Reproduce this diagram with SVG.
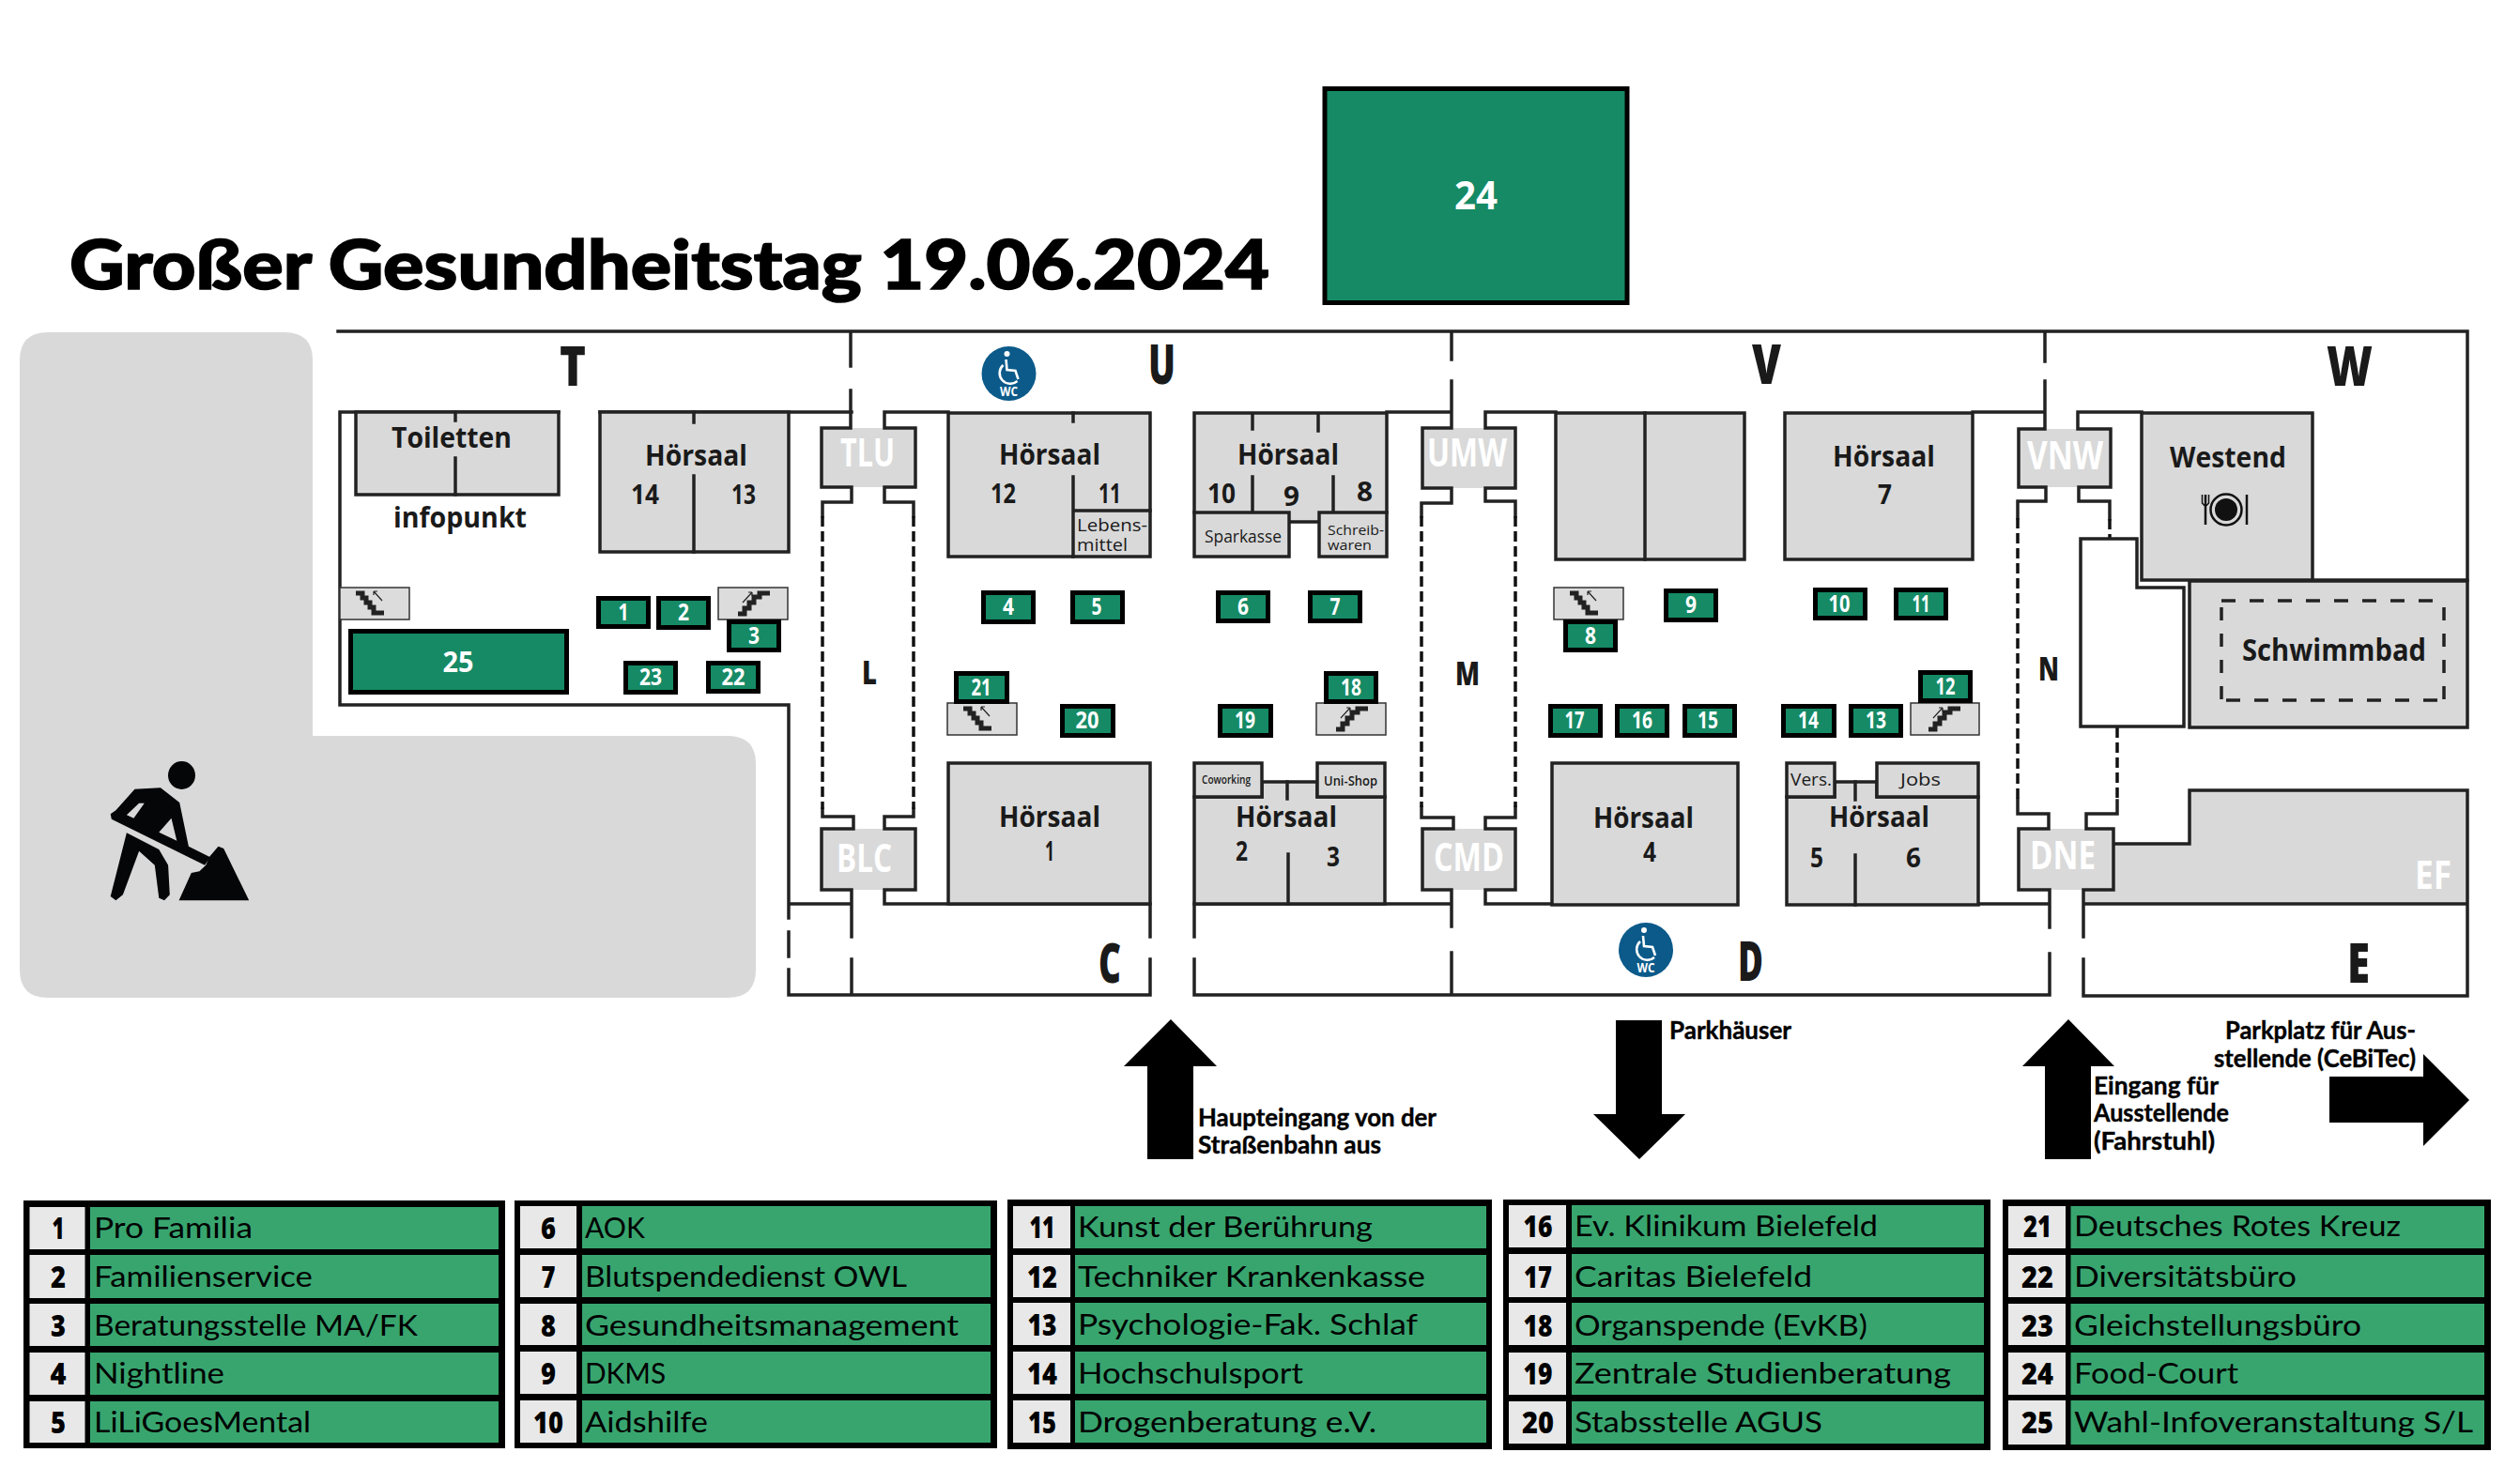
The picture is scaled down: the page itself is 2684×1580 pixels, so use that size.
<svg xmlns="http://www.w3.org/2000/svg" xmlns:xlink="http://www.w3.org/1999/xlink" width="2684" height="1580" viewBox="0 0 2684 1580">
<style>
text{font-family:"Open Sans","Noto Sans","Liberation Sans",sans-serif;fill:#1a1a1a}
.w{fill:none;stroke:#222;stroke-width:3.5;stroke-linecap:square}
.d{fill:none;stroke:#111;stroke-width:3.5;stroke-dasharray:11 5}
.d2{fill:none;stroke:#222;stroke-width:3.5;stroke-dasharray:15 15}
.d3{fill:none;stroke:#222;stroke-width:3.5;stroke-dasharray:14 14}
.room{fill:#d9d9d9;stroke:#222;stroke-width:3.5}
.fill{fill:#d9d9d9}
.stairbox{fill:#dcdcdc;stroke:#333;stroke-width:1.5}
.g{fill:#158a65;stroke:#000;stroke-width:5}
.n{fill:#fff;font-weight:700;font-size:25px;text-anchor:middle}
.t{font-weight:700;font-size:31px}
.m{font-weight:700;font-size:28px}
.s{font-weight:400;font-size:19px}
.xs{font-weight:400;font-size:15px}
.z{font-weight:800;font-size:59px}
.c{font-weight:800;font-size:36px}
.gate{fill:#fff;font-weight:700;font-size:41px}
.a{fill:#000}
.lab{font-family:"Lato","Noto Sans",sans-serif;font-weight:700;font-size:26px;fill:#000;stroke:#000;stroke-width:.4}
.lst{fill:#000}
.cell{fill:#e8e8e8}
.green{fill:#38a56f}
.rt{font-family:"Lato","Noto Sans",sans-serif;font-size:31px;fill:#000}
.rn{font-weight:800;font-size:32px;fill:#000;text-anchor:middle}
.wc{fill:#0b5a8a}
</style>
<defs>
<g id="stair-down"><path d="M17 6H24V11H28V16H32V21H36V27H47" fill="none" stroke="#222" stroke-width="5"/><path d="M45 14L36 4M36 4V8M36 4H40" fill="none" stroke="#222" stroke-width="1.2"/></g>
<g id="stair-up"><path d="M21 28H28V22H33V16H38V10H44V6H55" fill="none" stroke="#222" stroke-width="5"/><path d="M26 16L36 5M36 5H32M36 5V9" fill="none" stroke="#222" stroke-width="1.2"/></g>
<g id="wc-sign" fill="none" stroke="#fff" stroke-width="2.6"><circle cx="-2" cy="-21" r="3" fill="#fff" stroke="none"/><path d="M-3 -15L-2 -4L7 -3L10 6"/><path d="M-6 -9A10.500 10.500 0 1 0 9 8"/></g>
</defs>

<g id="site">
<path class="fill" d="M21 384Q21 354 51 354H303Q333 354 333 384V784H775Q805 784 805 814V1033Q805 1063 775 1063H51Q21 1063 21 1033Z"/>
<g id="worker" fill="#050608">
<ellipse cx="193.500" cy="826" rx="14.500" ry="15"/>
<path fill-rule="evenodd" d="M143.500 840.700L171 839.300L191.200 855L200.900 901.700L223.900 913.300L218.100 921.700L118.800 872.700L117.700 867.300L123.400 863.300ZM148.100 855.700L153.800 855.700L142.400 871.700L134.900 868.300ZM182.500 871.700L188.300 895.700L169.300 886.700Z"/>
<path d="M134.900 887.300L169.300 905L179.100 921.700L180.800 953.300L175.100 959.300L169.300 956.700L164.800 921.700L148.100 906.700L130.900 953.300L123.400 959.300L117.700 955Z"/>
<path d="M190.600 959.300L203.800 930L212.400 928.300L219.300 921.700L222.700 913.300L232.500 901.700L238.200 904L265.200 959.300Z"/>
</g>
</g>

<text id="title" x="74" y="308" font-size="73" style="font-family:Lato,'Noto Sans',sans-serif;font-weight:900;fill:#000;stroke:#000;stroke-width:1.6" textLength="1278" lengthAdjust="spacingAndGlyphs">Großer Gesundheitstag 19.06.2024</text>

<g id="walls">
<path class="fill" d="M2251 899H2332V842H2628V963H2219V948H2251Z"/>
<path class="fill" d="M874 456H975V519H874ZM874 883H975V948H874ZM1514 456H1615V520H1514ZM1514 883H1615V948H1514ZM2149 457H2248V519H2149ZM2149 883H2251V948H2149Z"/>
<path class="w" d="M360 353H2628V618H2463M362 439V751H840V978M840 993V1019M840 1033V1060H1225V1022M1225 998V963M362 439H595M639 439H907M906 353V390M906 416V456H875V519H907V535H876V550M942 439H1010M942 439V456H975V519H942V535H973V550M876 862V870H909V883H875V948H907V998M907 1022V1060M973 862V870H942V883H975V948H942V963H1225M840 963H907M1272 963V998M1272 1022V1060H2183V1016M2183 988V948H2150V883H2182V867H2149V852M1272 963H1546M1477 439H1546M1546 353V383M1546 406V456H1515V520H1546V536H1514V550M1582 439V456H1614V520H1582V534H1614V550M1582 439H1657M1514 860V871H1548V883H1515V948H1546V987M1546 1015V1060M1614 860V871H1582V883H1614V948H1582V963H1653M2107 963H2183M2101 439H2178M2178 353V385M2178 406V457H2150V519H2179V534H2149V552M2213 439H2281M2213 439V457H2248V519H2214V534H2247V553M2255 853V867H2222V883H2251V948H2219V963M2219 963V998M2219 1022V1061H2628V963M2251 899H2332V842H2628V963H2219"/>
<path class="d" d="M876 550V862M973 550V862M1514 550V860M1614 550V860M2149 552V852M2247 553V574M2255 775V853"/>
</g>

<g id="arrows">
<path class="a" d="M1247 1086L1296 1136H1271V1235H1222V1136H1197Z"/>
<path class="a" d="M1721 1087H1770V1187H1795L1746 1235L1697 1187H1721Z"/>
<path class="a" d="M2203 1086L2252 1136H2227V1235H2178V1136H2154Z"/>
<path class="a" d="M2481 1147H2581V1123L2630 1172L2581 1221V1196H2481Z"/>
</g>

<g id="room-toiletten">
<rect class="room" x="379" y="439" width="216" height="88"/>
<path class="w" d="M485 439V448M485 488V527"/>
<text class="t" x="417" y="477" textLength="128" lengthAdjust="spacingAndGlyphs">Toiletten</text>
</g>
<text id="infopunkt" class="t" x="419" y="562" textLength="142" lengthAdjust="spacingAndGlyphs">infopunkt</text>

<g id="room-14-13">
<rect class="room" x="639" y="439" width="201" height="149"/>
<path class="w" d="M739 439V450M739 507V588"/>
<text class="t" x="687" y="496" textLength="109" lengthAdjust="spacingAndGlyphs">Hörsaal</text>
<text class="m" x="672" y="537" textLength="30" lengthAdjust="spacingAndGlyphs">14</text>
<text class="m" x="779" y="537" textLength="26" lengthAdjust="spacingAndGlyphs">13</text>
</g>

<g id="room-12-11">
<rect class="room" x="1010" y="440" width="215" height="153"/>
<path class="w" d="M1143 440V449M1143 508V593M1143 544H1225"/>
<text class="t" x="1064" y="495" textLength="108" lengthAdjust="spacingAndGlyphs">Hörsaal</text>
<text class="m" x="1055" y="536" textLength="27" lengthAdjust="spacingAndGlyphs">12</text>
<text class="m" x="1170" y="536" textLength="24" lengthAdjust="spacingAndGlyphs">11</text>
<text class="s" x="1147" y="566" textLength="75" lengthAdjust="spacingAndGlyphs">Lebens-</text>
<text class="s" x="1147" y="587" textLength="54" lengthAdjust="spacingAndGlyphs">mittel</text>
</g>

<g id="room-10-9-8">
<path class="fill" d="M1272 440H1477V546H1405V556H1373V546H1272Z"/>
<path class="w" d="M1272 440H1477V546M1272 440V546M1373 556H1405M1334 440V457M1404 440V459M1334 508V544M1420 508V544"/>
<rect class="room" x="1272" y="546" width="101" height="47"/>
<rect class="room" x="1405" y="546" width="72" height="47"/>
<text class="t" x="1318" y="495" textLength="108" lengthAdjust="spacingAndGlyphs">Hörsaal</text>
<text class="m" x="1286" y="536" textLength="30" lengthAdjust="spacingAndGlyphs">10</text>
<text class="m" x="1367" y="539" textLength="17" lengthAdjust="spacingAndGlyphs">9</text>
<text class="m" x="1445" y="534" textLength="17" lengthAdjust="spacingAndGlyphs">8</text>
<text class="s" x="1283" y="578" textLength="82" lengthAdjust="spacingAndGlyphs">Sparkasse</text>
<text class="xs" x="1414" y="570" textLength="60" lengthAdjust="spacingAndGlyphs">Schreib-</text>
<text class="xs" x="1414" y="586" textLength="47" lengthAdjust="spacingAndGlyphs">waren</text>
</g>

<g id="room-blank">
<rect class="room" x="1657" y="440" width="201" height="156"/>
<path class="w" d="M1752 440V596"/>
</g>

<g id="room-7">
<rect class="room" x="1901" y="440" width="200" height="156"/>
<text class="t" x="1952" y="497" textLength="109" lengthAdjust="spacingAndGlyphs">Hörsaal</text>
<text class="m" x="2000" y="537" textLength="15" lengthAdjust="spacingAndGlyphs">7</text>
</g>

<g id="room-westend">
<rect class="room" x="2281" y="440" width="182" height="178"/>
<text class="t" x="2311" y="498" textLength="124" lengthAdjust="spacingAndGlyphs">Westend</text>
<circle cx="2371" cy="543" r="16.500" fill="#d9d9d9" stroke="#111" stroke-width="2.500"/>
<circle cx="2371" cy="543" r="12" fill="#111"/>
<path d="M2349 527V559" stroke="#111" stroke-width="2.500"/>
<path d="M2345.500 527V536Q2349 541 2352.500 536V527" fill="none" stroke="#111" stroke-width="1.500"/>
<path d="M2393 527V559" stroke="#111" stroke-width="2.500"/>
</g>

<path id="annex" d="M2216 574H2276V626H2326V774H2216Z" fill="#fff" stroke="#222" stroke-width="3.500"/>

<g id="room-schwimmbad">
<rect class="room" x="2332" y="619" width="296" height="156"/>
<path class="d2" d="M2366 640H2603"/><path class="d2" d="M2371 746H2603"/>
<path class="d3" d="M2366 647V746M2603 647V746"/>
<text x="2388" y="704" style="font-weight:700;font-size:32px" textLength="196" lengthAdjust="spacingAndGlyphs">Schwimmbad</text>
</g>

<g id="room-1">
<rect class="room" x="1010" y="813" width="215" height="150"/>
<text class="t" x="1064" y="881" textLength="108" lengthAdjust="spacingAndGlyphs">Hörsaal</text>
<text class="m" x="1113" y="917" textLength="10" lengthAdjust="spacingAndGlyphs">1</text>
</g>

<g id="room-2-3">
<path class="room" d="M1272 849H1344V833H1403V849H1475V963H1272Z"/>
<path class="w" d="M1371 833V851M1372 910V963"/>
<rect class="room" x="1272" y="813" width="72" height="36"/>
<rect class="room" x="1403" y="813" width="72" height="36"/>
<text x="1280" y="835" style="font-weight:600;font-size:13px" textLength="52" lengthAdjust="spacingAndGlyphs">Coworking</text>
<text x="1410" y="837" style="font-weight:600;font-size:15px" textLength="57" lengthAdjust="spacingAndGlyphs">Uni-Shop</text>
<text class="t" x="1316" y="881" textLength="108" lengthAdjust="spacingAndGlyphs">Hörsaal</text>
<text class="m" x="1316" y="917" textLength="13" lengthAdjust="spacingAndGlyphs">2</text>
<text class="m" x="1413" y="923" textLength="14" lengthAdjust="spacingAndGlyphs">3</text>
</g>

<g id="room-4">
<rect class="room" x="1653" y="813" width="198" height="151"/>
<text class="t" x="1697" y="882" textLength="107" lengthAdjust="spacingAndGlyphs">Hörsaal</text>
<text class="m" x="1750" y="918" textLength="14" lengthAdjust="spacingAndGlyphs">4</text>
</g>

<g id="room-5-6">
<path class="room" d="M1903 849H1954V833H1999V849H2107V964H1903Z"/>
<path class="w" d="M1976 833V852M1976 911V964"/>
<rect class="room" x="1903" y="813" width="51" height="36"/>
<rect class="room" x="1999" y="813" width="108" height="36"/>
<text class="s" x="1907" y="837" textLength="44" lengthAdjust="spacingAndGlyphs">Vers.</text>
<text class="s" x="2024" y="837" textLength="43" lengthAdjust="spacingAndGlyphs">Jobs</text>
<text class="t" x="1948" y="881" textLength="107" lengthAdjust="spacingAndGlyphs">Hörsaal</text>
<text class="m" x="1928" y="924" textLength="14" lengthAdjust="spacingAndGlyphs">5</text>
<text class="m" x="2030" y="924" textLength="16" lengthAdjust="spacingAndGlyphs">6</text>
</g>

<g id="gates">
<text class="gate" x="895" y="497" textLength="58" lengthAdjust="spacingAndGlyphs">TLU</text>
<text class="gate" x="1520" y="497" textLength="85" lengthAdjust="spacingAndGlyphs">UMW</text>
<text class="gate" x="2159" y="500" textLength="81" lengthAdjust="spacingAndGlyphs">VNW</text>
<text class="gate" x="891" y="929" textLength="59" lengthAdjust="spacingAndGlyphs">BLC</text>
<text class="gate" x="1527" y="928" textLength="75" lengthAdjust="spacingAndGlyphs">CMD</text>
<text class="gate" x="2162" y="926" textLength="70" lengthAdjust="spacingAndGlyphs">DNE</text>
<text class="gate" x="2572" y="947" textLength="39" lengthAdjust="spacingAndGlyphs">EF</text>
</g>

<g id="zones">
<text class="z" x="596" y="411" textLength="28" lengthAdjust="spacingAndGlyphs">T</text>
<text class="z" x="1223" y="409" textLength="29" lengthAdjust="spacingAndGlyphs">U</text>
<text class="z" x="1866" y="409" textLength="31" lengthAdjust="spacingAndGlyphs">V</text>
<text class="z" x="2478" y="411" textLength="49" lengthAdjust="spacingAndGlyphs">W</text>
<text class="z" x="1170" y="1047" textLength="24" lengthAdjust="spacingAndGlyphs">C</text>
<text class="z" x="1851" y="1045" textLength="27" lengthAdjust="spacingAndGlyphs">D</text>
<text class="z" x="2500" y="1047" textLength="24" lengthAdjust="spacingAndGlyphs">E</text>
<text class="c" x="918" y="729" textLength="16" lengthAdjust="spacingAndGlyphs">L</text>
<text class="c" x="1550" y="730" textLength="26" lengthAdjust="spacingAndGlyphs">M</text>
<text class="c" x="2171" y="725" textLength="22" lengthAdjust="spacingAndGlyphs">N</text>
</g>

<g id="stairs">
<rect class="stairbox" x="362" y="626" width="74" height="34"/><use href="#stair-down" xlink:href="#stair-down" x="362" y="626"/>
<rect class="stairbox" x="765" y="626" width="74" height="34"/><use href="#stair-up" xlink:href="#stair-up" x="765" y="626"/>
<rect class="stairbox" x="1009" y="749" width="74" height="34"/><use href="#stair-down" xlink:href="#stair-down" x="1009" y="749"/>
<rect class="stairbox" x="1402" y="749" width="74" height="34"/><use href="#stair-up" xlink:href="#stair-up" x="1402" y="749"/>
<rect class="stairbox" x="1655" y="626" width="74" height="34"/><use href="#stair-down" xlink:href="#stair-down" x="1655" y="626"/>
<rect class="stairbox" x="2035" y="749" width="73" height="34"/><use href="#stair-up" xlink:href="#stair-up" x="2033" y="749"/>
</g>

<g id="wc-u"><circle class="wc" cx="1074.500" cy="398" r="29"/><use href="#wc-sign" xlink:href="#wc-sign" x="1074.500" y="398"/><text x="1074.500" y="422" text-anchor="middle" style="fill:#fff;font-weight:700;font-size:14px" textLength="19" lengthAdjust="spacingAndGlyphs">WC</text></g>
<g id="wc-d"><circle class="wc" cx="1753" cy="1012" r="29"/><use href="#wc-sign" xlink:href="#wc-sign" x="1753" y="1012"/><text x="1753" y="1036" text-anchor="middle" style="fill:#fff;font-weight:700;font-size:14px" textLength="19" lengthAdjust="spacingAndGlyphs">WC</text></g>

<g id="s1"><rect class="g" x="637.500" y="637.500" width="53" height="30"/><text class="n" x="664" y="661" textLength="11" lengthAdjust="spacingAndGlyphs">1</text></g>
<g id="s2"><rect class="g" x="701.500" y="637.500" width="53" height="31"/><text class="n" x="728" y="661" textLength="12" lengthAdjust="spacingAndGlyphs">2</text></g>
<g id="s3"><rect class="g" x="776.500" y="662.500" width="53" height="30"/><text class="n" x="803" y="686" textLength="12" lengthAdjust="spacingAndGlyphs">3</text></g>
<g id="s4"><rect class="g" x="1047.500" y="631.500" width="53" height="31"/><text class="n" x="1074" y="655" textLength="12" lengthAdjust="spacingAndGlyphs">4</text></g>
<g id="s5"><rect class="g" x="1142.500" y="631.500" width="53" height="31"/><text class="n" x="1168" y="655" textLength="11" lengthAdjust="spacingAndGlyphs">5</text></g>
<g id="s6"><rect class="g" x="1297.500" y="631.500" width="53" height="30"/><text class="n" x="1324" y="655" textLength="12" lengthAdjust="spacingAndGlyphs">6</text></g>
<g id="s7"><rect class="g" x="1395.500" y="631.500" width="53" height="30"/><text class="n" x="1422" y="655" textLength="11" lengthAdjust="spacingAndGlyphs">7</text></g>
<g id="s8"><rect class="g" x="1667.500" y="662.500" width="53" height="30"/><text class="n" x="1694" y="686" textLength="12" lengthAdjust="spacingAndGlyphs">8</text></g>
<g id="s9"><rect class="g" x="1774.500" y="629.500" width="53" height="31"/><text class="n" x="1801" y="653" textLength="12" lengthAdjust="spacingAndGlyphs">9</text></g>
<g id="s10"><rect class="g" x="1933.500" y="628.500" width="53" height="30"/><text class="n" x="1959" y="652" textLength="23" lengthAdjust="spacingAndGlyphs">10</text></g>
<g id="s11"><rect class="g" x="2019.500" y="628.500" width="53" height="30"/><text class="n" x="2046" y="652" textLength="19" lengthAdjust="spacingAndGlyphs">11</text></g>
<g id="s12"><rect class="g" x="2045.500" y="716.500" width="53" height="30"/><text class="n" x="2072" y="740" textLength="21" lengthAdjust="spacingAndGlyphs">12</text></g>
<g id="s13"><rect class="g" x="1971.500" y="752.500" width="53" height="31"/><text class="n" x="1998" y="776" textLength="22" lengthAdjust="spacingAndGlyphs">13</text></g>
<g id="s14"><rect class="g" x="1899.500" y="752.500" width="54" height="31"/><text class="n" x="1926" y="776" textLength="22" lengthAdjust="spacingAndGlyphs">14</text></g>
<g id="s15"><rect class="g" x="1794.500" y="752.500" width="53" height="31"/><text class="n" x="1819" y="776" textLength="22" lengthAdjust="spacingAndGlyphs">15</text></g>
<g id="s16"><rect class="g" x="1722.500" y="752.500" width="53" height="31"/><text class="n" x="1749" y="776" textLength="22" lengthAdjust="spacingAndGlyphs">16</text></g>
<g id="s17"><rect class="g" x="1651.500" y="752.500" width="53" height="31"/><text class="n" x="1677" y="776" textLength="21" lengthAdjust="spacingAndGlyphs">17</text></g>
<g id="s18"><rect class="g" x="1412.500" y="717.500" width="53" height="30"/><text class="n" x="1439" y="741" textLength="22" lengthAdjust="spacingAndGlyphs">18</text></g>
<g id="s19"><rect class="g" x="1299.500" y="752.500" width="54" height="31"/><text class="n" x="1326" y="776" textLength="22" lengthAdjust="spacingAndGlyphs">19</text></g>
<g id="s20"><rect class="g" x="1131.500" y="752.500" width="54" height="31"/><text class="n" x="1158" y="776" textLength="25" lengthAdjust="spacingAndGlyphs">20</text></g>
<g id="s21"><rect class="g" x="1018.500" y="717.500" width="54" height="30"/><text class="n" x="1045" y="741" textLength="21" lengthAdjust="spacingAndGlyphs">21</text></g>
<g id="s22"><rect class="g" x="754.500" y="706.500" width="53" height="30"/><text class="n" x="781" y="730" textLength="25" lengthAdjust="spacingAndGlyphs">22</text></g>
<g id="s23"><rect class="g" x="666.500" y="706.500" width="53" height="31"/><text class="n" x="693" y="730" textLength="24" lengthAdjust="spacingAndGlyphs">23</text></g>
<g id="s24"><rect class="g" x="1411" y="94.500" width="322" height="228"/><text class="n" x="1572" y="223" style="font-size:41px" textLength="46" lengthAdjust="spacingAndGlyphs">24</text></g>
<g id="s25"><rect class="g" x="373.500" y="672.500" width="230" height="65"/><text class="n" x="488" y="716" style="font-size:31px" textLength="33" lengthAdjust="spacingAndGlyphs">25</text></g>

<g id="directions">
<text class="lab" x="1276" y="1200" textLength="254" lengthAdjust="spacingAndGlyphs">Haupteingang von der</text>
<text class="lab" x="1276" y="1229" textLength="195" lengthAdjust="spacingAndGlyphs">Straßenbahn aus</text>
<text class="lab" x="1778" y="1107" textLength="130" lengthAdjust="spacingAndGlyphs">Parkhäuser</text>
<text class="lab" x="2370" y="1107" textLength="203" lengthAdjust="spacingAndGlyphs">Parkplatz für Aus-</text>
<text class="lab" x="2358" y="1137" textLength="215" lengthAdjust="spacingAndGlyphs">stellende (CeBiTec)</text>
<text class="lab" x="2230" y="1166" textLength="133" lengthAdjust="spacingAndGlyphs">Eingang für</text>
<text class="lab" x="2230" y="1195" textLength="144" lengthAdjust="spacingAndGlyphs">Ausstellende</text>
<text class="lab" x="2230" y="1225" textLength="129" lengthAdjust="spacingAndGlyphs">(Fahrstuhl)</text>
</g>

<g id="legend-1">
<rect class="lst" x="25" y="1279" width="513" height="264"/>
<rect class="cell" x="31.500" y="1286" width="59" height="45"/><rect class="green" x="96" y="1286" width="435" height="45"/>
<rect class="cell" x="31.500" y="1337" width="59" height="46"/><rect class="green" x="96" y="1337" width="435" height="46"/>
<rect class="cell" x="31.500" y="1389" width="59" height="45"/><rect class="green" x="96" y="1389" width="435" height="45"/>
<rect class="cell" x="31.500" y="1441" width="59" height="45"/><rect class="green" x="96" y="1441" width="435" height="45"/>
<rect class="cell" x="31.500" y="1493" width="59" height="44"/><rect class="green" x="96" y="1493" width="435" height="44"/>
<text class="rn" x="62" y="1320" textLength="13" lengthAdjust="spacingAndGlyphs">1</text><text class="rt" x="100" y="1319" textLength="169" lengthAdjust="spacingAndGlyphs">Pro Familia</text>
<text class="rn" x="62" y="1372" textLength="16" lengthAdjust="spacingAndGlyphs">2</text><text class="rt" x="100" y="1371" textLength="233" lengthAdjust="spacingAndGlyphs">Familienservice</text>
<text class="rn" x="62" y="1424" textLength="16" lengthAdjust="spacingAndGlyphs">3</text><text class="rt" x="100" y="1423" textLength="345" lengthAdjust="spacingAndGlyphs">Beratungsstelle MA/FK</text>
<text class="rn" x="62" y="1475" textLength="17" lengthAdjust="spacingAndGlyphs">4</text><text class="rt" x="100" y="1474" textLength="139" lengthAdjust="spacingAndGlyphs">Nightline</text>
<text class="rn" x="62" y="1527" textLength="16" lengthAdjust="spacingAndGlyphs">5</text><text class="rt" x="100" y="1526" textLength="231" lengthAdjust="spacingAndGlyphs">LiLiGoesMental</text>
</g>
<g id="legend-2">
<rect class="lst" x="548" y="1279" width="514" height="264"/>
<rect class="cell" x="554" y="1285" width="60" height="45"/><rect class="green" x="620" y="1285" width="435" height="45"/>
<rect class="cell" x="554" y="1337" width="60" height="45"/><rect class="green" x="620" y="1337" width="435" height="45"/>
<rect class="cell" x="554" y="1389" width="60" height="44"/><rect class="green" x="620" y="1389" width="435" height="44"/>
<rect class="cell" x="554" y="1440" width="60" height="45"/><rect class="green" x="620" y="1440" width="435" height="45"/>
<rect class="cell" x="554" y="1492" width="60" height="45"/><rect class="green" x="620" y="1492" width="435" height="45"/>
<text class="rn" x="584" y="1320" textLength="16" lengthAdjust="spacingAndGlyphs">6</text><text class="rt" x="623" y="1319" textLength="64" lengthAdjust="spacingAndGlyphs">AOK</text>
<text class="rn" x="584" y="1372" textLength="15" lengthAdjust="spacingAndGlyphs">7</text><text class="rt" x="623" y="1371" textLength="343" lengthAdjust="spacingAndGlyphs">Blutspendedienst OWL</text>
<text class="rn" x="584" y="1424" textLength="16" lengthAdjust="spacingAndGlyphs">8</text><text class="rt" x="623" y="1423" textLength="398" lengthAdjust="spacingAndGlyphs">Gesundheitsmanagement</text>
<text class="rn" x="584" y="1475" textLength="16" lengthAdjust="spacingAndGlyphs">9</text><text class="rt" x="623" y="1474" textLength="86" lengthAdjust="spacingAndGlyphs">DKMS</text>
<text class="rn" x="584" y="1527" textLength="32" lengthAdjust="spacingAndGlyphs">10</text><text class="rt" x="623" y="1526" textLength="131" lengthAdjust="spacingAndGlyphs">Aidshilfe</text>
</g>
<g id="legend-3">
<rect class="lst" x="1073" y="1278" width="516" height="266"/>
<rect class="cell" x="1079" y="1285" width="61" height="45"/><rect class="green" x="1145" y="1285" width="438" height="45"/>
<rect class="cell" x="1079" y="1337" width="61" height="45"/><rect class="green" x="1145" y="1337" width="438" height="45"/>
<rect class="cell" x="1079" y="1388" width="61" height="45"/><rect class="green" x="1145" y="1388" width="438" height="45"/>
<rect class="cell" x="1079" y="1440" width="61" height="45"/><rect class="green" x="1145" y="1440" width="438" height="45"/>
<rect class="cell" x="1079" y="1492" width="61" height="45"/><rect class="green" x="1145" y="1492" width="438" height="45"/>
<text class="rn" x="1110" y="1319" textLength="27" lengthAdjust="spacingAndGlyphs">11</text><text class="rt" x="1148" y="1318" textLength="314" lengthAdjust="spacingAndGlyphs">Kunst der Berührung</text>
<text class="rn" x="1110" y="1372" textLength="32" lengthAdjust="spacingAndGlyphs">12</text><text class="rt" x="1148" y="1371" textLength="370" lengthAdjust="spacingAndGlyphs">Techniker Krankenkasse</text>
<text class="rn" x="1110" y="1423" textLength="31" lengthAdjust="spacingAndGlyphs">13</text><text class="rt" x="1148" y="1422" textLength="362" lengthAdjust="spacingAndGlyphs">Psychologie-Fak. Schlaf</text>
<text class="rn" x="1110" y="1475" textLength="32" lengthAdjust="spacingAndGlyphs">14</text><text class="rt" x="1148" y="1474" textLength="240" lengthAdjust="spacingAndGlyphs">Hochschulsport</text>
<text class="rn" x="1110" y="1527" textLength="30" lengthAdjust="spacingAndGlyphs">15</text><text class="rt" x="1148" y="1526" textLength="318" lengthAdjust="spacingAndGlyphs">Drogenberatung e.V.</text>
</g>
<g id="legend-4">
<rect class="lst" x="1601" y="1278" width="519" height="267"/>
<rect class="cell" x="1607" y="1284" width="61" height="45"/><rect class="green" x="1674" y="1284" width="439" height="45"/>
<rect class="cell" x="1607" y="1336" width="61" height="46"/><rect class="green" x="1674" y="1336" width="439" height="46"/>
<rect class="cell" x="1607" y="1388" width="61" height="45"/><rect class="green" x="1674" y="1388" width="439" height="45"/>
<rect class="cell" x="1607" y="1441" width="61" height="45"/><rect class="green" x="1674" y="1441" width="439" height="45"/>
<rect class="cell" x="1607" y="1493" width="61" height="45"/><rect class="green" x="1674" y="1493" width="439" height="45"/>
<text class="rn" x="1638" y="1318" textLength="31" lengthAdjust="spacingAndGlyphs">16</text><text class="rt" x="1677" y="1317" textLength="323" lengthAdjust="spacingAndGlyphs">Ev. Klinikum Bielefeld</text>
<text class="rn" x="1638" y="1372" textLength="30" lengthAdjust="spacingAndGlyphs">17</text><text class="rt" x="1677" y="1371" textLength="253" lengthAdjust="spacingAndGlyphs">Caritas Bielefeld</text>
<text class="rn" x="1638" y="1424" textLength="31" lengthAdjust="spacingAndGlyphs">18</text><text class="rt" x="1677" y="1423" textLength="312" lengthAdjust="spacingAndGlyphs">Organspende (EvKB)</text>
<text class="rn" x="1638" y="1475" textLength="31" lengthAdjust="spacingAndGlyphs">19</text><text class="rt" x="1677" y="1474" textLength="401" lengthAdjust="spacingAndGlyphs">Zentrale Studienberatung</text>
<text class="rn" x="1638" y="1527" textLength="34" lengthAdjust="spacingAndGlyphs">20</text><text class="rt" x="1677" y="1526" textLength="264" lengthAdjust="spacingAndGlyphs">Stabsstelle AGUS</text>
</g>
<g id="legend-5">
<rect class="lst" x="2133" y="1278" width="520" height="267"/>
<rect class="cell" x="2139" y="1285" width="61" height="45"/><rect class="green" x="2205.500" y="1285" width="440.500" height="45"/>
<rect class="cell" x="2139" y="1337" width="61" height="45"/><rect class="green" x="2205.500" y="1337" width="440.500" height="45"/>
<rect class="cell" x="2139" y="1389" width="61" height="44"/><rect class="green" x="2205.500" y="1389" width="440.500" height="44"/>
<rect class="cell" x="2139" y="1441" width="61" height="45"/><rect class="green" x="2205.500" y="1441" width="440.500" height="45"/>
<rect class="cell" x="2139" y="1492" width="61" height="47"/><rect class="green" x="2205.500" y="1492" width="440.500" height="47"/>
<text class="rn" x="2170" y="1318" textLength="30" lengthAdjust="spacingAndGlyphs">21</text><text class="rt" x="2209" y="1317" textLength="348" lengthAdjust="spacingAndGlyphs">Deutsches Rotes Kreuz</text>
<text class="rn" x="2170" y="1372" textLength="34" lengthAdjust="spacingAndGlyphs">22</text><text class="rt" x="2209" y="1371" textLength="237" lengthAdjust="spacingAndGlyphs">Diversitätsbüro</text>
<text class="rn" x="2170" y="1424" textLength="34" lengthAdjust="spacingAndGlyphs">23</text><text class="rt" x="2209" y="1423" textLength="306" lengthAdjust="spacingAndGlyphs">Gleichstellungsbüro</text>
<text class="rn" x="2170" y="1475" textLength="34" lengthAdjust="spacingAndGlyphs">24</text><text class="rt" x="2209" y="1474" textLength="175" lengthAdjust="spacingAndGlyphs">Food-Court</text>
<text class="rn" x="2170" y="1527" textLength="34" lengthAdjust="spacingAndGlyphs">25</text><text class="rt" x="2209" y="1526" textLength="425" lengthAdjust="spacingAndGlyphs">Wahl-Infoveranstaltung S/L</text>
</g>
</svg>
